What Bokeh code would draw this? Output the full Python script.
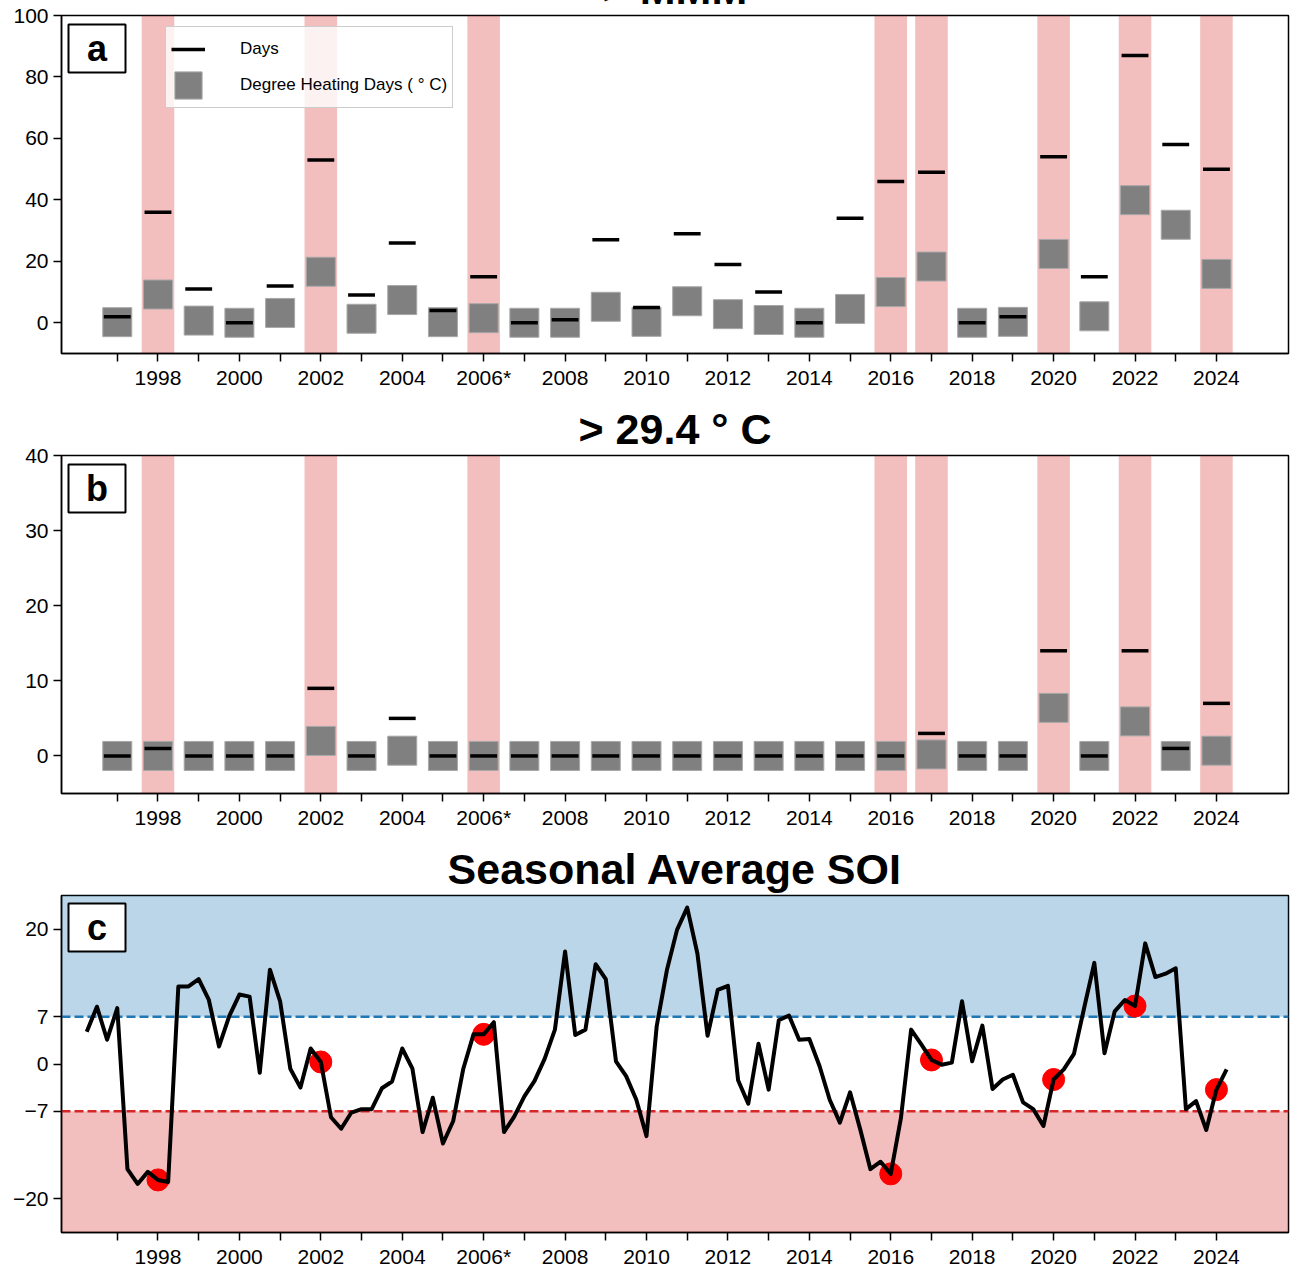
import numpy as np
from bokeh.plotting import figure
from bokeh.layouts import column
from bokeh.models import Range1d, FixedTicker, Label, BoxAnnotation, Span, Legend, LegendItem
from bokeh.embed import file_html
from bokeh.resources import INLINE

# ---------------- data ----------------
years = list(range(1997, 2025))
year_labels = ["", "1998", "", "2000", "", "2002", "", "2004", "", "2006*", "", "2008", "",
               "2010", "", "2012", "", "2014", "", "2016", "", "2018", "", "2020", "", "2022",
               "", "2024"]
event_years = [1998, 2002, 2006, 2016, 2017, 2020, 2022, 2024]

# panel a (days and degree heating days)
days_a = [2, 36, 11, 0, 12, 53, 9, 26, 4, 15, 0, 1, 27, 5, 29, 19, 10, 0, 34, 46, 49,
          0, 2, 54, 15, 87, 58, 50]
dhd_a = [0.2, 9.2, 0.7, 0.0, 3.2, 16.6, 1.3, 7.4, 0.2, 1.5, 0.0, 0.0, 5.2, 0.3, 7.0, 2.8,
         0.9, 0.0, 4.5, 10.0, 18.3, 0.0, 0.3, 22.4, 2.1, 39.9, 31.9, 15.9]

# panel b (> 29.4 C)
days_b = [0, 1, 0, 0, 0, 9, 0, 5, 0, 0, 0, 0, 0, 0, 0, 0, 0, 0, 0, 0, 3, 0, 0, 14, 0,
          14, 1, 7]
dhd_b = [0, 0, 0, 0, 0, 2.0, 0, 0.7, 0, 0, 0, 0, 0, 0, 0, 0, 0, 0, 0, 0, 0.2, 0, 0, 6.4,
         0, 4.6, 0, 0.7]

# panel c: seasonal average SOI, quarterly from 1996.25
soi_start = 1996.25
soi_step = 0.25
soi_values = [4.8, 8.5, 3.6,
              8.3, -15.6, -17.8, -16.0,
              -17.2, -17.5, 11.5, 11.5,
              12.6, 9.5, 2.6, 7.1,
              10.3, 10.0, -1.3, 14.0,
              9.3, -0.7, -3.5, 2.3,
              0.3, -7.9, -9.6, -7.2,
              -6.7, -6.7, -3.6, -2.6,
              2.3, -0.7, -10.1, -5.0,
              -11.8, -8.5, -0.7, 4.4,
              4.4, 6.2, -10.1, -7.8,
              -4.8, -2.5, 0.8, 5.1,
              16.7, 4.3, 5.1, 14.8,
              12.6, 0.4, -1.8, -5.3,
              -10.7, 5.6, 13.9, 19.9,
              23.2, 16.4, 4.2, 11.0,
              11.6, -2.4, -5.9, 3.0,
              -3.8, 6.5, 7.2, 3.6,
              3.7, -0.3, -5.3, -8.7,
              -4.2, -9.7, -15.6, -14.5,
              -16.3, -8.0, 5.1, 2.9,
              0.6, -0.1, 0.2, 9.3,
              0.4, 5.7, -3.7, -2.3,
              -1.6, -5.7, -6.7, -9.2,
              -2.3, -0.8, 1.5, 8.3,
              15.0, 1.6, 7.8, 9.5,
              8.6, 17.9, 12.9, 13.4,
              14.2, -6.7, -5.5, -9.8,
              -3.8, -0.8]
soi_threshold = 7

yticks_a = [0, 20, 40, 60, 80, 100]
yticks_b = [0, 10, 20, 30, 40]
yticks_c = [-20, -7, 0, 7, 20]
ytick_labels_c = ["\u221220", "\u22127", "0", "7", "20"]

titles = ["> MMM", "> 29.4 \u00b0 C", "Seasonal Average SOI"]
letters = ["a", "b", "c"]
legend_labels = ["Days", "Degree Heating Days ( \u00b0 C)"]

# ---------------- style ----------------
FONT = "Liberation Sans"
PINK = "#d62728"
BLUE = "#1f77b4"
GRAY = "#808080"
EDGE = "#a8a8a8"
XLO, XHI = 1995.63, 2025.77
FW, FH = 1227, 338
W = 1293
DASH_HALF = 0.33     # half width of the "days" dash, in years
BOX_PX = 29          # side of the DHD square, px
TOP_SHIFT = 43       # first panel starts above the window (its title is cut off)


def make_panel(height, b_top, b_bottom, y0, y1, yticks, title, ylabels=None):
    p = figure(width=W, height=height, x_range=Range1d(XLO, XHI), y_range=Range1d(y0, y1),
               output_backend="svg", toolbar_location=None,
               min_border_left=61, min_border_right=5,
               min_border_top=b_top, min_border_bottom=b_bottom)
    p.title.text = title
    p.title.align = "center"
    p.title.text_font = FONT
    p.title.text_font_style = "bold"
    p.title.text_font_size = "43px"
    p.title.text_color = "black"
    p.title.standoff = 5
    p.title.offset = 0
    p.grid.visible = False
    p.outline_line_color = "black"
    p.outline_line_width = 1.5
    p.outline_line_alpha = 1.0
    p.background_fill_color = "white"
    p.border_fill_color = "white"
    p.axis.axis_line_width = 1.5
    p.axis.axis_line_color = "black"
    p.axis.major_tick_line_width = 1.5
    p.axis.major_tick_line_color = "black"
    p.axis.major_tick_out = 8
    p.axis.major_tick_in = 0
    p.axis.minor_tick_out = 0
    p.axis.minor_tick_in = 0
    p.axis.major_label_text_font = FONT
    p.axis.major_label_text_font_size = "21px"
    p.axis.major_label_text_color = "black"
    p.xaxis.major_label_standoff = 4
    p.yaxis.major_label_standoff = 5
    p.xaxis.ticker = FixedTicker(ticks=years)
    p.xaxis.major_label_overrides = dict(zip(years, year_labels))
    p.yaxis.ticker = FixedTicker(ticks=yticks)
    if ylabels is not None:
        p.yaxis.major_label_overrides = dict(zip(yticks, ylabels))
    return p


def add_letter(p, letter):
    p.add_layout(BoxAnnotation(left=7, right=64, top=FH - 9, bottom=FH - 57,
                               left_units="screen", right_units="screen",
                               top_units="screen", bottom_units="screen",
                               fill_color="white", fill_alpha=1.0,
                               line_color="black", line_width=2, line_alpha=1.0,
                               level="annotation"))
    p.add_layout(Label(x=35.5, y=FH - 33, x_units="screen", y_units="screen", text=letter,
                       text_align="center", text_baseline="middle", text_font=FONT,
                       text_font_style="bold", text_font_size="36px", text_color="black"))


def bar_panel(p, days, dhd, y0, y1):
    p.vbar(x=event_years, width=0.8, bottom=y0, top=y1, fill_color=PINK, fill_alpha=0.3,
           line_color=None)
    sq = p.rect(x=years, y=dhd, width=BOX_PX, height=BOX_PX, width_units="screen",
                height_units="screen", fill_color=GRAY, line_color=EDGE, line_width=1)
    x0 = [y - DASH_HALF for y in years]
    x1 = [y + DASH_HALF for y in years]
    ds = p.segment(x0=x0, x1=x1, y0=days, y1=days, line_color="black", line_width=3.5,
                   line_cap="butt")
    return sq, ds


# ---- panel a ----
p1 = make_panel(338 + 15 + TOP_SHIFT + 45, 15 + TOP_SHIFT, 45, -10, 100, yticks_a, titles[0])
sq1, ds1 = bar_panel(p1, days_a, dhd_a, -10, 100)
legend = Legend(items=[LegendItem(label=legend_labels[0], renderers=[ds1]),
                       LegendItem(label=legend_labels[1], renderers=[sq1])],
                location=(104, 245), glyph_width=34, glyph_height=34, label_height=34,
                label_standoff=35, spacing=2, padding=5, margin=0,
                label_text_font=FONT, label_text_font_size="17px", label_text_color="black",
                background_fill_color="white", background_fill_alpha=0.8,
                border_line_color="#cccccc", border_line_width=1.5, border_line_alpha=1.0)
p1.add_layout(legend)
add_letter(p1, letters[0])

# ---- panel b ----
p2 = make_panel(440, 57, 45, -5, 40, yticks_b, titles[1])
bar_panel(p2, days_b, dhd_b, -5, 40)
add_letter(p2, letters[1])

# ---- panel c ----
soi_t = [soi_start + soi_step * i for i in range(len(soi_values))]
soi_lookup = dict(zip(soi_t, soi_values))
dot_t = [float(y) for y in event_years]
dot_v = [soi_lookup[t] for t in dot_t]

p3 = make_panel(432, 57, 37, -25, 25, yticks_c, titles[2], ytick_labels_c)
p3.add_layout(BoxAnnotation(bottom=soi_threshold, fill_color=BLUE, fill_alpha=0.3,
                            line_color=None, level="underlay"))
p3.add_layout(BoxAnnotation(top=-soi_threshold, fill_color=PINK, fill_alpha=0.3,
                            line_color=None, level="underlay"))
p3.add_layout(Span(location=soi_threshold, dimension="width", line_color=BLUE,
                   line_width=2.5, line_dash="9 4", level="underlay"))
p3.add_layout(Span(location=-soi_threshold, dimension="width", line_color=PINK,
                   line_width=2.5, line_dash="9 4", level="underlay"))
p3.scatter(x=dot_t, y=dot_v, marker="circle", size=22, fill_color="red", line_color="red")
p3.line(x=soi_t, y=soi_values, line_color="black", line_width=4, line_join="round")
add_letter(p3, letters[2])

layout = column(p1, p2, p3, spacing=0, styles={"margin-top": "-%dpx" % TOP_SHIFT})

with open("out.html", "w") as f:
    f.write(file_html(layout, INLINE))
